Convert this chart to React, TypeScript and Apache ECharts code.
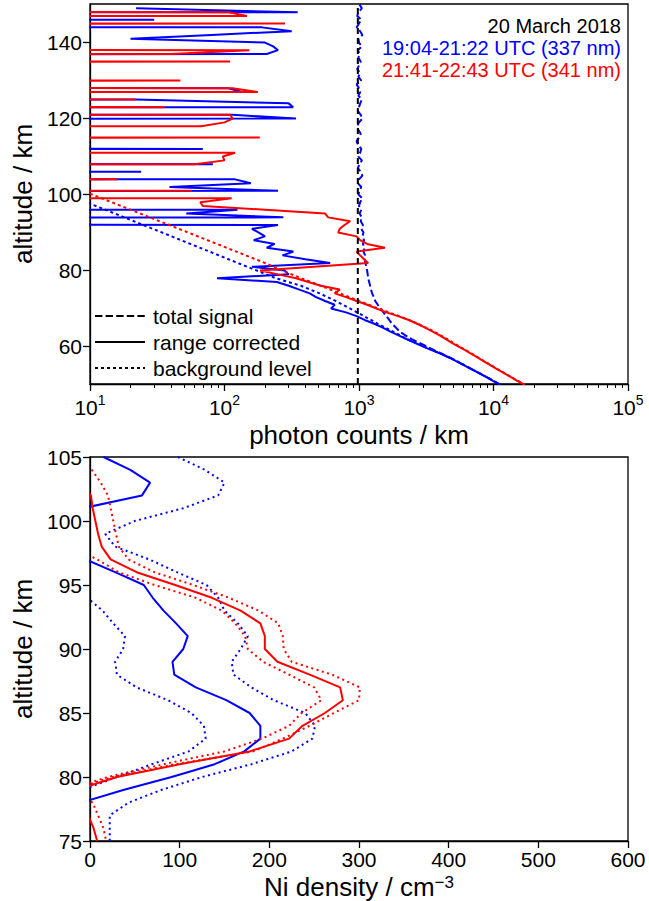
import React, { useEffect, useRef } from "react";
import * as echarts from "echarts";

// ---------- top panel: photon counts (log x) vs altitude ----------
const ALT_TOP = [
  149.85, 148.85, 147.85, 146.85, 145.85, 144.85, 143.85, 142.85, 141.85, 140.85,
  139.85, 138.85, 137.85, 136.85, 135.85, 134.85, 133.85, 132.85, 131.85, 130.85,
  129.85, 128.85, 127.85, 126.85, 125.85, 124.85, 123.85, 122.85, 121.85, 120.85,
  119.85, 118.85, 117.85, 116.85, 115.85, 114.85, 113.85, 112.85, 111.85, 110.85,
  109.85, 108.85, 107.85, 106.85, 105.85, 104.85, 103.85, 102.85, 101.85, 100.85,
  99.85, 98.85, 97.85, 96.85, 95.85, 94.85, 93.85, 92.85, 91.85, 90.85,
  89.85, 88.85, 87.85, 86.85, 85.85, 84.85, 83.85, 82.85, 81.85, 80.85,
  79.85, 78.85, 77.85, 76.85, 75.85, 74.85, 73.85, 72.85, 71.85, 70.85,
  69.85, 68.85, 67.85, 66.85, 65.85, 64.85, 63.85, 62.85, 61.85, 60.85,
  59.85, 58.85, 57.85, 56.85, 55.85, 54.85, 53.85, 52.85, 51.85, 50.85,
  49.85,
];

// 341 nm range corrected (0 = non-positive, clipped at the left edge)
const RED_RC = [
  0, 0, 108, 147, 0, 282, 0, 0, 0, 0,
  0, 0, 153, 40, 0, 110, 0, 0, 0, 0,
  47, 0, 115, 177, 0, 22, 0, 36, 0, 110,
  115, 100, 67, 0, 0, 183, 0, 0, 0, 120,
  97, 100, 60, 0, 0, 0, 16, 0, 0, 57,
  0, 113, 66, 69, 200, 560, 590, 860, 780, 720,
  700, 960, 1020, 1150, 1560, 960, 1020, 1090, 1170, 460,
  184, 250, 340, 420, 520, 720, 660, 800, 960, 1150,
  1350, 1600, 1950, 2350, 2700, 3100, 3500, 3950, 4400, 4900,
  5500, 6200, 6900, 7700, 8600, 9600, 10700, 12000, 13400, 15000,
  17000,
];

// 337 nm range corrected
const BLUE_RC = [
  null, 22, 350, 0, 30, 0, 190, 316, 80, 20,
  200, 230, 250, 206, 0, 0, 0, 0, 0, 0,
  0, 0, 107, 135, 0, 22, 300, 324, 0, 115,
  340, 0, 0, 0, 0, 0, 0, 0, 69, 0,
  0, 0, 82, 0, 24, 0, 120, 157, 39, 250,
  0, 0, 0, 0, 125, 52, 274, 0, 250, 160,
  180, 200, 165, 236, 206, 325, 270, 400, 610, 160,
  280, 300, 88, 245, 300, 360, 430, 480, 560, 660,
  620, 800, 960, 1100, 1300, 1500, 1700, 1950, 2250, 2600,
  3000, 3500, 4100, 4740, 5400, 6100, 6900, 7800, 8800, 9900,
  11200,
];

// 337 nm total signal
const BLUE_TS = [
  1010, 1050, 990, 970, 1040, 1000, 960, 1020, 1060, 990,
  1000, 1050, 980, 1010, 990, 1030, 1000, 970, 1020, 990,
  1040, 960, 1000, 1020, 990, 1050, 1020, 1000, 980, 1030,
  1060, 1000, 970, 990, 1030, 1000, 960, 990, 1040, 1020,
  990, 1050, 1010, 980, 1030, 1060, 1000, 980, 1040, 1010,
  990, 1060, 1020, 1000, 1040, 1010, 1050, 1030, 1070, 1040,
  1080, 1060, 1090, 1070, 1100, 1080, 1110, 1100, 1120, 1130,
  1150, 1160, 1170, 1190, 1210, 1230, 1250, 1290, 1320, 1380,
  1450, 1520, 1600, 1680, 1760, 1880, 2000, 2200, 2450, 2800,
  3200, 3650, 4200, 4800, 5450, 6150, 6950, 7850, 8850, 9950,
  11250,
];

// total signal drawn in black
const ALT_BLACK = [50, 150];
const BLACK_TS = [980, 980];

// background levels
const ALT_BG_BLUE = [98.85, 77.85, 75.85, 73.85, 71.85, 69.85, 67.85, 65.85, 63.85, 61.85, 59.85, 57.85, 55.85, 53.85, 51.85, 49.85];
const BLUE_BG = [8, 240, 370, 510, 670, 860, 1090, 1380, 1780, 2270, 3050, 4150, 5450, 6950, 8850, 11250];
const ALT_BG_RED = [101.85, 81.85, 79.85, 77.85, 75.85, 73.85, 71.85, 69.85, 67.85, 65.85, 63.85, 61.85, 59.85, 57.85, 55.85, 53.85, 51.85, 49.85];
const RED_BG = [7.5, 200, 270, 370, 520, 720, 1000, 1400, 2000, 2750, 3600, 4500, 5600, 7000, 8700, 10800, 13500, 17100];

const X_TOP_TICKS = [10, 100, 1000, 10000, 100000];
const X_TOP_EXP = ["1", "2", "3", "4", "5"];
const X_TOP_MINOR = [
  20, 30, 40, 50, 60, 70, 80, 90,
  200, 300, 400, 500, 600, 700, 800, 900,
  2000, 3000, 4000, 5000, 6000, 7000, 8000, 9000,
  20000, 30000, 40000, 50000, 60000, 70000, 80000, 90000,
];
const Y_TOP_TICKS = [60, 80, 100, 120, 140];

// ---------- bottom panel: Ni density ----------
const ALT_NI = [105, 104, 103, 102, 101, 100, 99, 98, 97, 96, 95, 94, 93, 92, 91, 90, 89, 88, 87, 86, 85, 84, 83, 82, 81, 80, 79, 78, 77, 76, 75];
const NI_BLUE = [15, 45, 67, 58, -8, -30, -30, -20, -5, 28, 60, 70, 82, 96, 109, 104, 92, 94, 118, 152, 178, 190, 190, 172, 139, 91, 38, -10, -20, -20, -20];
const NI_BLUE_LO = [-60, -60, -60, -60, -60, -50, -40, -30, -20, -15, -10, -3, 14, 26, 39, 37, 28, 30, 52, 87, 113, 127, 129, 110, 69, 30, -8, -40, -40, -40, -40];
const NI_BLUE_HI = [98, 128, 150, 143, 104, 50, 17, 28, 66, 97, 130, 143, 150, 165, 176, 168, 158, 160, 180, 205, 240, 251, 248, 225, 180, 125, 80, 43, 22, 22, 22];
const NI_RED = [-20, -20, -10, 1, 3, 6, 9, 13, 23, 52, 95, 136, 168, 190, 195, 195, 209, 245, 279, 282, 262, 237, 222, 178, 100, 30, -15, -15, -2, 4, 8];
const NI_RED_HI = [-10, 2, 12, 20, 23, 26, 29, 32, 43, 72, 115, 155, 188, 210, 215, 216, 225, 270, 301, 300, 272, 245, 215, 182, 95, 25, -20, 3, 9, 15, 18];
const NI_RED_LO = [-30, -30, -30, -30, -30, -30, -30, -20, 8, 32, 72, 118, 147, 162, 173, 176, 193, 222, 250, 258, 236, 222, 192, 150, 82, 20, -25, -30, -30, -30, -30];

const LEGEND_LABELS = ["total signal", "range corrected", "background level"];
const ANNOTATIONS = ["20 March 2018", "19:04-21:22 UTC (337 nm)", "21:41-22:43 UTC (341 nm)"];

const FONT = "Liberation Sans";
const BLUE = "#0000ff";
const RED = "#ff0000";

function logPairs(alts: number[], vals: (number | null)[]) {
  const out: number[][] = [];
  vals.forEach((v, i) => {
    if (v === null) return;
    out.push([v <= 0 ? 1e-30 : v, alts[i]]);
  });
  return out;
}
function linPairs(alts: number[], vals: number[]) {
  return vals.map((v, i) => [v, alts[i]]);
}

export default function App() {
  const ref = useRef<HTMLDivElement>(null);
  useEffect(() => {
    if (!ref.current) return;
    const chart = echarts.init(ref.current, null, { renderer: "svg" });
    const axisLineStyle = { color: "#000", width: 1.3 };
    const tickLabel = { fontSize: 21, color: "#000", fontFamily: FONT };
    const nameStyle = { fontSize: 26, color: "#000", fontFamily: FONT };

    const line = (name: string, data: any, color: string, type: any, xi: number, yi: number, width = 2) => ({
      name,
      type: "line",
      xAxisIndex: xi,
      yAxisIndex: yi,
      data,
      showSymbol: false,
      symbol: "none",
      clip: true,
      lineStyle: { color, width, type },
      silent: true,
    });

    const option: any = {
      animation: false,
      textStyle: { fontFamily: FONT },
      grid: [
        { left: 90, top: 4, width: 538, height: 380, show: true, borderColor: "#000", borderWidth: 1.3, backgroundColor: "transparent" },
        { left: 90, top: 457, width: 538, height: 384, show: true, borderColor: "#000", borderWidth: 1.3, backgroundColor: "transparent" },
        // same rectangle as grid 0, only for the minor ticks of the log axis
        { left: 90, top: 4, width: 538, height: 380, show: false },
      ],
      xAxis: [
        {
          type: "log",
          logBase: 10,
          gridIndex: 0,
          position: "bottom",
          min: 10,
          max: 100000,
          axisLine: { show: true, lineStyle: axisLineStyle },
          axisTick: { show: true, length: 7, customValues: X_TOP_TICKS, lineStyle: axisLineStyle },
          axisLabel: {
            customValues: X_TOP_TICKS,
            margin: 9,
            formatter: (v: number) => {
              const i = X_TOP_TICKS.findIndex((t) => Math.abs(t - v) / t < 1e-6);
              return "{b|10}{s|" + (i >= 0 ? X_TOP_EXP[i] : "") + "}";
            },
            rich: {
              b: { fontSize: 21, color: "#000", fontFamily: FONT, lineHeight: 28 },
              s: { fontSize: 14, color: "#000", fontFamily: FONT, lineHeight: 16, verticalAlign: "top" },
            },
          },
          splitLine: { show: false },
          name: "photon counts / km",
          nameLocation: "middle",
          nameGap: 38,
          nameTextStyle: nameStyle,
        },
        {
          type: "value",
          gridIndex: 1,
          min: 0,
          max: 600,
          interval: 100,
          axisLine: { show: true, lineStyle: axisLineStyle },
          axisTick: { show: true, length: 7, lineStyle: axisLineStyle },
          axisLabel: { ...tickLabel, margin: 8 },
          splitLine: { show: false },
          name: "Ni density / cm{s|\u22123}",
          nameLocation: "middle",
          nameGap: 33,
          nameTextStyle: {
            ...nameStyle,
            rich: {
              s: { fontSize: 17, color: "#000", fontFamily: FONT, verticalAlign: "top", lineHeight: 18 },
            },
          },
        },
        {
          type: "log",
          logBase: 10,
          gridIndex: 2,
          position: "bottom",
          min: 10,
          max: 100000,
          axisLine: { show: false },
          axisTick: { show: true, length: 4, customValues: X_TOP_MINOR, lineStyle: { color: "#000", width: 1 } },
          axisLabel: { show: false },
          splitLine: { show: false },
        },
      ],
      yAxis: [
        {
          type: "value",
          gridIndex: 0,
          min: 50,
          max: 150,
          axisLine: { show: true, lineStyle: axisLineStyle },
          axisTick: { show: true, length: 7, customValues: Y_TOP_TICKS, lineStyle: axisLineStyle },
          axisLabel: { ...tickLabel, customValues: Y_TOP_TICKS, margin: 8 },
          splitLine: { show: false },
          name: "altitude / km",
          nameLocation: "middle",
          nameGap: 52,
          nameRotate: 90,
          nameTextStyle: nameStyle,
        },
        {
          type: "value",
          gridIndex: 1,
          min: 75,
          max: 105,
          interval: 5,
          axisLine: { show: true, lineStyle: axisLineStyle },
          axisTick: { show: true, length: 7, lineStyle: axisLineStyle },
          axisLabel: { ...tickLabel, margin: 8 },
          splitLine: { show: false },
          name: "altitude / km",
          nameLocation: "middle",
          nameGap: 52,
          nameRotate: 90,
          nameTextStyle: nameStyle,
        },
        {
          type: "value",
          gridIndex: 2,
          min: 50,
          max: 150,
          show: false,
        },
      ],
      series: [
        line("ts337", logPairs(ALT_TOP, BLUE_TS), BLUE, [7.4, 3.2], 0, 0),
        line("rc337", logPairs(ALT_TOP, BLUE_RC), BLUE, "solid", 0, 0),
        line("bg337", logPairs(ALT_BG_BLUE, BLUE_BG), BLUE, [3, 3], 0, 0),
        line("rc341", logPairs(ALT_TOP, RED_RC), RED, "solid", 0, 0),
        line("bg341", logPairs(ALT_BG_RED, RED_BG), RED, [3, 3], 0, 0),
        line("ts341", logPairs(ALT_BLACK, BLACK_TS), "#000", [6, 4], 0, 0),
        line("niBlueLo", linPairs(ALT_NI, NI_BLUE_LO), BLUE, [2, 3.5], 1, 1),
        line("niBlueHi", linPairs(ALT_NI, NI_BLUE_HI), BLUE, [2, 3.5], 1, 1),
        line("niBlue", linPairs(ALT_NI, NI_BLUE), BLUE, "solid", 1, 1),
        line("niRedLo", linPairs(ALT_NI, NI_RED_LO), RED, [2, 3.5], 1, 1),
        line("niRedHi", linPairs(ALT_NI, NI_RED_HI), RED, [2, 3.5], 1, 1),
        line("niRed", linPairs(ALT_NI, NI_RED), RED, "solid", 1, 1),
      ],
      graphic: [
        { type: "line", shape: { x1: 95, y1: 316, x2: 145, y2: 316 }, style: { stroke: "#000", lineWidth: 2, lineDash: [7.4, 3.2] } },
        { type: "line", shape: { x1: 95, y1: 342, x2: 145, y2: 342 }, style: { stroke: "#000", lineWidth: 2 } },
        { type: "line", shape: { x1: 95, y1: 368, x2: 145, y2: 368 }, style: { stroke: "#000", lineWidth: 2, lineDash: [3, 3] } },
        { type: "text", x: 153, y: 316, style: { text: LEGEND_LABELS[0], fontSize: 21, fontFamily: FONT, fill: "#000", verticalAlign: "middle" } },
        { type: "text", x: 153, y: 342, style: { text: LEGEND_LABELS[1], fontSize: 21, fontFamily: FONT, fill: "#000", verticalAlign: "middle" } },
        { type: "text", x: 153, y: 368, style: { text: LEGEND_LABELS[2], fontSize: 21, fontFamily: FONT, fill: "#000", verticalAlign: "middle" } },
        { type: "text", x: 621, y: 26, style: { text: ANNOTATIONS[0], fontSize: 20, fontFamily: FONT, fill: "#000", align: "right", verticalAlign: "middle" } },
        { type: "text", x: 621, y: 48, style: { text: ANNOTATIONS[1], fontSize: 20, fontFamily: FONT, fill: BLUE, align: "right", verticalAlign: "middle" } },
        { type: "text", x: 621, y: 70, style: { text: ANNOTATIONS[2], fontSize: 20, fontFamily: FONT, fill: RED, align: "right", verticalAlign: "middle" } },
      ],
    };
    chart.setOption(option);
    return () => chart.dispose();
  }, []);
  return <div ref={ref} style={{ position: "fixed", left: 0, top: 0, width: 649, height: 901, background: "#fff" }} />;
}
